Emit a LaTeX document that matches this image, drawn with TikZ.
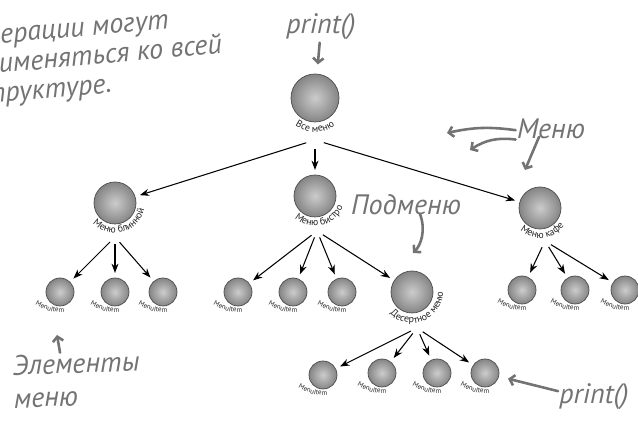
\documentclass[tikz,border=0pt]{standalone}
\usepackage{fontspec}
\usetikzlibrary{arrows.meta,decorations.text,positioning}
\newfontfamily\handfont{PT Sans}
\newfontfamily\lblfont{PT Sans}

% подпись по дуге под шаром: узел, подъём центра дуги, радиус, угол середины, кегль, текст
\newcommand{\arclabel}[6]{%
  \path[decorate, decoration={text along path, text align=center,
      text color=black!85, text={|\lblfont\fontsize{#5}{#5}\selectfont|#6}}]
    (#1.center) ++(0,#2) ++(#4-80:#3) arc[start angle=#4-80, end angle=#4+80, radius=#3];}

\begin{document}
\begin{tikzpicture}[
    x=0.03cm, y=0.03cm,
    ball/.style={circle, draw=black!70, line width=0.6pt, inner color=black!20, outer color=black!48},
    bigball/.style={ball, minimum size=1.44cm},
    midball/.style={ball, minimum size=1.26cm},
    leafball/.style={ball, minimum size=0.84cm},
    foot/.style={circle, inner sep=0pt, minimum size=0.4cm},
    arrow/.style={line width=0.9pt, -{Stealth[length=8pt,width=6pt]}, shorten >=4pt},
    hand/.style={font=\handfont\itshape\fontsize{24}{28}\selectfont, text=black!55, inner sep=1pt},
    note/.style={draw=black!55, line width=2.2pt, line cap=round, -{Straight Barb[length=4pt,width=9pt]}}
]
\path[use as bounding box] (0,0) rectangle (638,421);
\clip (0,0) rectangle (638,421);

% корень
\node[bigball] (root) at (315,323) {};
\arclabel{root}{0}{34}{270}{8.5}{Все меню}
\node[foot, minimum size=0.54cm] (root-f) at (315,281) {};

% меню
\node[midball] (bl) at (115,218) {};
\arclabel{bl}{0}{30}{285}{8.5}{Меню блинной}
\node[foot] (bl-f) at (115,184) {};

\node[midball] (bi) at (315,225) {};
\arclabel{bi}{0}{30}{283}{8.5}{Меню бистро}
\node[foot] (bi-f) at (317,190) {};

\node[midball] (ka) at (540,213) {};
\arclabel{ka}{0}{30}{276}{8.5}{Меню кафе}
\node[foot] (ka-f) at (545,180) {};

% подменю
\node[midball] (de) at (412,129) {};
\arclabel{de}{0}{31}{292}{8.5}{Десертное меню}
\node[foot] (de-f) at (417,93) {};

% элементы меню
\node[leafball] (l1) at (60,129) {};
\arclabel{l1}{25}{45}{256}{6}{MenuItem}
\node[leafball] (l2) at (115,129) {};
\arclabel{l2}{25}{45}{256}{6}{MenuItem}
\node[leafball] (l3) at (163,129) {};
\arclabel{l3}{25}{45}{256}{6}{MenuItem}
\node[leafball] (l4) at (238,129) {};
\arclabel{l4}{25}{45}{256}{6}{MenuItem}
\node[leafball] (l5) at (293,129) {};
\arclabel{l5}{25}{45}{256}{6}{MenuItem}
\node[leafball] (l6) at (342,129) {};
\arclabel{l6}{25}{45}{256}{6}{MenuItem}
\node[leafball] (l7) at (522,131) {};
\arclabel{l7}{25}{45}{256}{6}{MenuItem}
\node[leafball] (l8) at (575,131) {};
\arclabel{l8}{25}{45}{256}{6}{MenuItem}
\node[leafball] (l9) at (625,131) {};
\arclabel{l9}{25}{45}{256}{6}{MenuItem}
\node[leafball] (l10) at (323,46) {};
\arclabel{l10}{25}{45}{256}{6}{MenuItem}
\node[leafball] (l11) at (382,48) {};
\arclabel{l11}{25}{45}{256}{6}{MenuItem}
\node[leafball] (l12) at (437,48) {};
\arclabel{l12}{25}{45}{256}{6}{MenuItem}
\node[leafball] (l13) at (485,48) {};
\arclabel{l13}{25}{45}{256}{6}{MenuItem}

% связи
\draw[arrow] (root-f) -- (bl);
\draw[arrow] (root-f) -- (bi);
\draw[arrow] (root-f) -- (ka);
\draw[arrow] (bl-f) -- (l1);
\draw[arrow] (bl-f) -- (l2);
\draw[arrow] (bl-f) -- (l3);
\draw[arrow] (bi-f) -- (l4);
\draw[arrow] (bi-f) -- (l5);
\draw[arrow] (bi-f) -- (l6);
\draw[arrow] (bi-f) -- (de);
\draw[arrow] (ka-f) -- (l7);
\draw[arrow] (ka-f) -- (l8);
\draw[arrow] (ka-f) -- (l9);
\draw[arrow] (de-f) -- (l10);
\draw[arrow] (de-f) -- (l11);
\draw[arrow] (de-f) -- (l12);
\draw[arrow] (de-f) -- (l13);

% пометки от руки
\node[hand, font=\handfont\itshape\fontsize{24}{25}\selectfont, align=left, anchor=north west, rotate=5, inner sep=0pt] (ops) at (-34,395)
  {Операции могут\\применяться ко всей\\структуре.};

\node[hand] (ptop) at (321,394) {print()};
\draw[note, shorten <=1pt, shorten >=8pt] (ptop) -- (root);

\node[hand] (men) at (551,292) {Меню};
\coordinate (m1) at (447,288);
\coordinate (m2) at (470,271);
\coordinate (m3) at (525,251);
\draw[note] ([yshift=-1]men.west) to[bend right=10] (m1);
\draw[note] ([yshift=-9]men.west) to[bend right=20] (m2);
\draw[note] ([xshift=20,yshift=3]men.south west) -- (m3);

\node[hand] (sub) at (406,216) {Подменю};
\coordinate (s1) at (413,168);
\draw[note] ([xshift=12,yshift=2]sub.south) .. controls +(6,-16) and +(8,8) .. (s1);

\node[hand, align=left, anchor=north west, rotate=2, inner sep=0pt] (items) at (12,66) {Элементы\\меню};
\coordinate (e1) at (57,86);
\draw[note] ([xshift=41,yshift=2]items.north west) -- (e1);

\node[hand] (pbot) at (594,24) {print()};
\draw[note, shorten >=8pt] ([yshift=5]pbot.west) -- (l13);

\end{tikzpicture}
\end{document}
